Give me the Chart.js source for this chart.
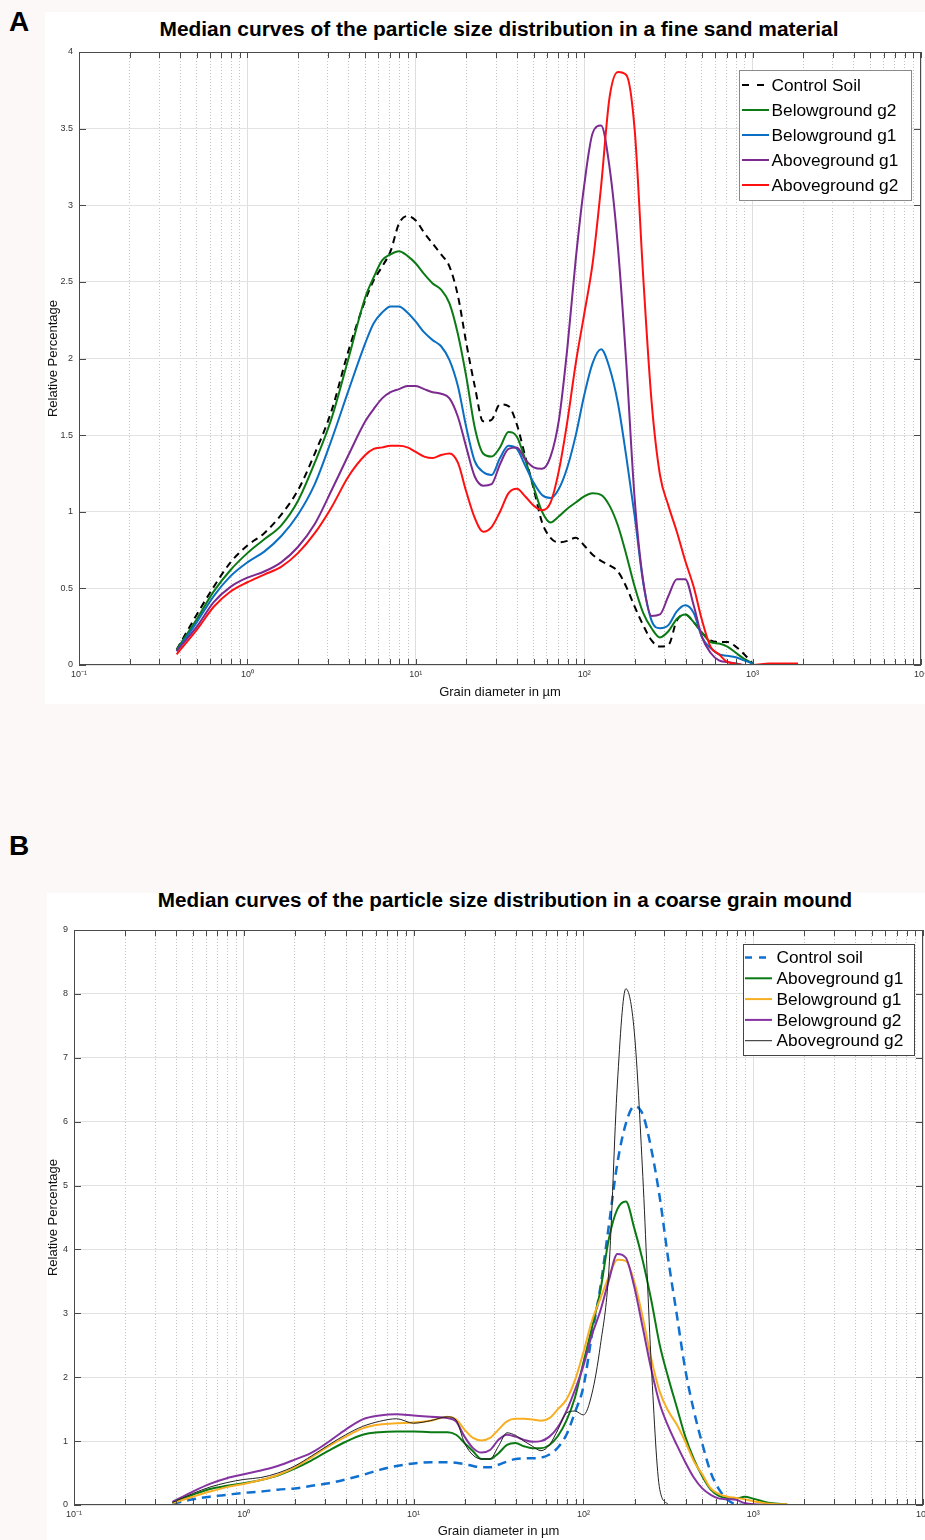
<!DOCTYPE html>
<html>
<head>
<meta charset="utf-8">
<script src="https://cdn.jsdelivr.net/npm/chart.js@4.4.1/dist/chart.umd.min.js"></script>
<style>
html,body{margin:0;padding:0;background:#fcf8f7;}
body{width:925px;height:1540px;position:relative;overflow:hidden;font-family:"Liberation Sans",Arial,Helvetica,sans-serif;}
.panel{position:absolute;background:#fff;}
.letter{position:absolute;font-weight:bold;font-size:28px;line-height:1;font-family:"Liberation Sans Narrow","Liberation Sans",Arial,sans-serif;color:#000;}
.title{position:absolute;font-weight:bold;font-size:19.5px;line-height:1;white-space:nowrap;color:#000;}
canvas{position:absolute;}
</style>
</head>
<body>
<div class="panel" style="left:45px;top:12px;width:880px;height:692px;"></div>
<div class="panel" style="left:47px;top:893px;width:878px;height:647px;"></div>
<div class="letter" style="left:9px;top:8px;">A</div>
<div class="letter" style="left:9px;top:832px;">B</div>
<div class="title" style="left:499px;top:20px;transform:translateX(-50%) scaleX(1.071);">Median curves of the particle size distribution in a fine sand material</div>
<div class="title" style="left:505px;top:891px;transform:translateX(-50%) scaleX(1.061);">Median curves of the particle size distribution in a coarse grain mound</div>
<canvas id="chartA" width="885" height="695" style="left:40px;top:10px;"></canvas>
<canvas id="chartB" width="885" height="655" style="left:40px;top:885px;"></canvas>
<script>
// ---------- shared axis tick values / labels ----------
const xDecades = [0.1, 1, 10, 100, 1000, 10000];
const xDecadeLabels = ['10⁻¹', '10⁰', '10¹', '10²', '10³', '10⁴'];
const yTicksA = [0, 0.5, 1, 1.5, 2, 2.5, 3, 3.5, 4];
const yTickLabelsA = ['0', '0.5', '1', '1.5', '2', '2.5', '3', '3.5', '4'];
const yTicksB = [0, 1, 2, 3, 4, 5, 6, 7, 8, 9];
const yTickLabelsB = ['0', '1', '2', '3', '4', '5', '6', '7', '8', '9'];

// ---------- Chart A: fine sand material ----------
const xA = [0.38,0.501,0.631,0.794,1,1.259,1.585,1.995,2.512,3.162,3.981,5.012,5.623,6.31,7.079,7.943,8.913,10,11.22,12.59,14.13,15.85,17.78,19.95,22.39,25.12,28.18,31.62,35.48,39.81,44.67,50.12,56.23,63.1,70.79,79.43,89.13,100,112.2,125.9,141.3,158.5,177.8,199.5,223.9,251.2,281.8,316.2,354.8,398.1,446.7,501.2,562.3,631,707.9,794.3,891.3,1000,1259,1585,1862];
const controlSoilA = [0.10,0.33,0.51,0.67,0.78,0.86,0.98,1.14,1.38,1.66,2.05,2.38,
  2.51,2.60,2.70,2.88,2.93,2.90,2.82,2.75,2.68,2.60,2.41,2.10,1.82,1.59,1.60,1.70,1.69,1.57,1.36,1.15,0.93,0.83,0.80,0.81,0.83,0.78,0.72,0.68,0.65,0.61,0.51,0.38,0.26,0.16,0.12,0.13,0.29,0.33,0.28,0.21,0.16,0.15,0.15,0.12,0.07,0.01,null,null,null];
const belowG2A = [0.10,0.30,0.48,0.62,0.73,0.82,0.91,1.07,1.32,1.61,2.00,2.40,
  2.53,2.64,2.68,2.70,2.67,2.62,2.55,2.49,2.45,2.36,2.16,1.88,1.55,1.38,1.36,1.42,1.52,1.49,1.34,1.16,1.00,0.93,0.97,1.02,1.06,1.10,1.12,1.11,1.04,0.91,0.72,0.51,0.34,0.24,0.18,0.22,0.30,0.33,0.28,0.21,0.15,0.14,0.12,0.08,0.04,0.01,null,null,null];
const belowG1A = [0.09,0.28,0.45,0.58,0.67,0.74,0.84,0.98,1.18,1.47,1.79,2.10,
  2.23,2.30,2.34,2.34,2.30,2.24,2.17,2.12,2.08,1.99,1.82,1.55,1.33,1.26,1.24,1.35,1.43,1.41,1.30,1.19,1.11,1.09,1.15,1.29,1.50,1.76,1.97,2.06,1.94,1.71,1.36,0.97,0.54,0.29,0.24,0.26,0.35,0.39,0.34,0.18,0.11,0.07,0.06,0.05,0.03,0.01,null,null,null];
const aboveG1A = [0.09,0.25,0.41,0.51,0.57,0.61,0.67,0.77,0.92,1.14,1.37,1.59,
  1.67,1.74,1.78,1.80,1.82,1.82,1.80,1.78,1.77,1.74,1.62,1.42,1.23,1.17,1.18,1.31,1.41,1.42,1.34,1.29,1.28,1.36,1.60,2.07,2.65,3.13,3.47,3.52,3.25,2.73,1.97,1.08,0.55,0.32,0.33,0.45,0.56,0.56,0.39,0.18,0.08,0.03,0.02,0.01,0.00,0.00,null,null,null];
const aboveG2A = [0.07,0.23,0.38,0.48,0.54,0.59,0.64,0.73,0.86,1.03,1.23,1.37,
  1.41,1.42,1.43,1.43,1.42,1.39,1.36,1.35,1.37,1.38,1.32,1.13,0.96,0.87,0.90,1.00,1.12,1.15,1.10,1.04,1.01,1.06,1.27,1.59,1.97,2.29,2.62,3.12,3.70,3.87,3.85,3.49,2.54,1.72,1.24,1.04,0.87,0.68,0.51,0.29,0.12,0.07,0.02,0.01,0.00,0.00,0.01,0.01,0.01];

// ---------- Chart B: coarse grain mound ----------
const xB = [0.38,0.501,0.631,0.794,1,1.259,1.585,1.995,2.512,3.162,3.981,5.012,6.31,7.943,10,12.59,15.85,17.78,19.95,22.39,25.12,28.18,31.62,35.48,39.81,44.67,50.12,56.23,63.1,70.79,79.43,89.13,100,112.2,125.9,141.3,158.5,177.8,199.5,223.9,251.2,281.8,316.2,354.8,398.1,446.7,501.2,562.3,631,707.9,794.3,891.3,1000,1259,1585];
const controlSoilB = [0.02,0.09,0.13,0.16,0.19,0.21,0.24,0.26,0.30,0.34,0.40,0.47,0.55,0.61,0.65,0.67,0.67,
  0.66,0.64,0.61,0.59,0.59,0.63,0.68,0.72,0.73,0.73,0.74,0.79,0.90,1.10,1.45,1.85,2.66,3.41,4.38,5.35,5.97,6.24,6.11,5.57,4.81,3.84,2.98,2.12,1.48,0.96,0.51,0.24,0.08,0.01,0.00,null,null,null];
const aboveG1B = [0.04,0.16,0.25,0.30,0.34,0.39,0.46,0.57,0.70,0.85,0.99,1.10,1.14,1.15,1.15,1.14,1.14,
  1.10,0.97,0.84,0.72,0.72,0.81,0.94,0.97,0.92,0.89,0.89,0.94,1.08,1.32,1.68,2.23,2.77,3.36,4.17,4.63,4.75,4.33,3.82,3.20,2.50,1.99,1.53,1.07,0.72,0.45,0.24,0.14,0.11,0.10,0.13,0.10,0.03,0.01];
const belowG1B = [0.03,0.13,0.21,0.28,0.33,0.39,0.47,0.59,0.75,0.92,1.07,1.20,1.26,1.28,1.29,1.32,1.38,
  1.34,1.18,1.05,1.01,1.05,1.18,1.31,1.35,1.35,1.34,1.32,1.36,1.50,1.65,1.95,2.39,2.88,3.23,3.58,3.84,3.82,3.49,2.93,2.28,1.77,1.47,1.26,0.99,0.69,0.48,0.26,0.17,0.13,0.11,0.09,0.06,0.02,0.01];
const belowG2B = [0.05,0.21,0.33,0.42,0.48,0.54,0.61,0.71,0.82,0.99,1.18,1.34,1.40,1.42,1.40,1.38,1.36,
  1.31,1.07,0.89,0.82,0.86,1.02,1.10,1.07,1.02,0.99,1.00,1.07,1.22,1.47,1.80,2.18,2.66,3.04,3.52,3.93,3.87,3.41,2.77,2.12,1.58,1.23,0.94,0.67,0.43,0.26,0.16,0.10,0.09,0.08,0.03,0.01,0.00,0.00];
const aboveG2B = [0.04,0.18,0.28,0.35,0.40,0.43,0.50,0.61,0.77,0.94,1.10,1.23,1.31,1.35,1.28,1.32,1.38,
  1.33,0.97,0.78,0.72,0.72,0.92,1.13,1.09,1.00,0.92,0.85,0.94,1.18,1.44,1.47,1.41,1.74,2.50,3.68,6.59,8.08,7.40,5.14,2.18,0.24,0.01,null,null,null,null,null,null,null,null,null,null,null,null];

// minor log ticks (2..9 of each decade) for the dotted grid
const xMinor = [];
for (let d = 0; d < xDecades.length - 1; d++) for (let k = 2; k <= 9; k++) xMinor.push(+(k * xDecades[d]).toPrecision(3));
const xAllTicks = xDecades.concat(xMinor).sort((a, b) => a - b);
const isDecade = v => xDecades.some(d => Math.abs(v - d) / d < 1e-6);

function pts(xs, ys) { return xs.map((x, i) => ({ x: x, y: ys[i] })); }

const framePlugin = {
  id: 'frame',
  afterDatasetsDraw(chart) {
    const { ctx, chartArea: { left, right, top, bottom }, scales: { x, y } } = chart;
    ctx.save();
    ctx.strokeStyle = '#4a4a4a';
    ctx.lineWidth = 1;
    ctx.beginPath();
    x.ticks.forEach(t => {
      const px = Math.round(x.getPixelForValue(t.value)) + 0.5;
      ctx.moveTo(px, bottom); ctx.lineTo(px, bottom - 6);
      ctx.moveTo(px, top); ctx.lineTo(px, top + 6);
    });
    y.ticks.forEach(t => {
      const py = Math.round(y.getPixelForValue(t.value)) + 0.5;
      ctx.moveTo(left, py); ctx.lineTo(left + 7, py);
      ctx.moveTo(right, py); ctx.lineTo(right - 7, py);
    });
    ctx.stroke();
    ctx.strokeRect(Math.round(left) + 0.5, Math.round(top) + 0.5, Math.round(right - left) - 1, Math.round(bottom - top) - 1);
    ctx.restore();
  }
};

const boxLegendPlugin = {
  id: 'boxLegend',
  afterDraw(chart, args, o) {
    const ctx = chart.ctx;
    ctx.save();
    ctx.fillStyle = '#fff';
    ctx.fillRect(o.x, o.y, o.w, o.h);
    ctx.strokeStyle = o.border;
    ctx.lineWidth = 1;
    ctx.strokeRect(o.x + 0.5, o.y + 0.5, o.w, o.h);
    ctx.font = o.font;
    ctx.textBaseline = 'middle';
    chart.data.datasets.forEach((ds, i) => {
      const cy = o.rowY + i * o.rowH;
      ctx.beginPath();
      ctx.strokeStyle = ds.borderColor;
      ctx.lineWidth = ds.borderWidth;
      ctx.setLineDash(ds.borderDash ? o.dash : []);
      ctx.moveTo(o.lx1, cy); ctx.lineTo(o.lx2, cy);
      ctx.stroke();
      ctx.setLineDash([]);
      ctx.fillStyle = '#000';
      ctx.fillText(ds.label, o.tx, cy + 1);
    });
    ctx.restore();
  }
};

function makeChart(id, cfg) {
  const tickFont = { family: '"Liberation Sans", Arial, sans-serif', size: 9 };
  return new Chart(document.getElementById(id), {
    type: 'line',
    data: { datasets: cfg.datasets },
    options: {
      responsive: false,
      animation: false,
      devicePixelRatio: 1,
      layout: { padding: cfg.padding },
      elements: { point: { radius: 0 }, line: { cubicInterpolationMode: 'monotone', fill: false } },
      plugins: { legend: { display: false }, tooltip: { enabled: false }, title: { display: false }, boxLegend: cfg.legend },
      scales: {
        x: {
          type: 'logarithmic', min: 0.1, max: 10000, position: 'bottom',
          afterBuildTicks: s => { s.ticks = xAllTicks.map(v => ({ value: v })); },
          afterFit: s => { s.height = cfg.xAxisHeight; s.paddingLeft = 0; s.paddingRight = 0; },
          ticks: {
            autoSkip: false, maxRotation: 0, minRotation: 0, padding: 4, color: '#333', font: tickFont,
            callback: v => { const i = xDecades.findIndex(d => Math.abs(v - d) / d < 1e-6); return i >= 0 ? xDecadeLabels[i] : ''; }
          },
          grid: {
            drawTicks: false,
            color: c => (c.tick && isDecade(c.tick.value)) ? '#dedede' : '#c4c4c4'
          },
          border: { display: false, dash: c => (c.tick && isDecade(c.tick.value)) ? [] : [1, 2] },
          title: { display: true, text: 'Grain diameter in µm', color: '#111', font: { family: '"Liberation Sans", Arial, sans-serif', size: 13 }, padding: { top: 0, bottom: cfg.xTitlePad } }
        },
        y: {
          type: 'linear', min: 0, max: cfg.yMax, position: 'left',
          afterBuildTicks: s => { s.ticks = cfg.yTicks.map(v => ({ value: v })); },
          afterFit: s => { s.width = cfg.yAxisWidth; s.paddingTop = 0; s.paddingBottom = 0; },
          ticks: { autoSkip: false, padding: 6, color: '#333', font: tickFont, callback: (v, i) => cfg.yLabels[i] },
          grid: { drawTicks: false, color: '#e2e2e2' },
          border: { display: false },
          title: { display: true, text: 'Relative Percentage', color: '#111', font: { family: '"Liberation Sans", Arial, sans-serif', size: 13 }, padding: { top: cfg.yTitlePad, bottom: 0 } }
        }
      }
    },
    plugins: [framePlugin, boxLegendPlugin]
  });
}

const dsA = [
  { label: 'Control Soil', data: pts(xA, controlSoilA), borderColor: '#000000', borderWidth: 2, borderDash: [7, 5], order: 5 },
  { label: 'Belowground g2', data: pts(xA, belowG2A), borderColor: '#0b7a14', borderWidth: 2, order: 4 },
  { label: 'Belowground g1', data: pts(xA, belowG1A), borderColor: '#0a6fc2', borderWidth: 2, order: 3 },
  { label: 'Aboveground g1', data: pts(xA, aboveG1A), borderColor: '#7b2a8f', borderWidth: 2, order: 2 },
  { label: 'Aboveground g2', data: pts(xA, aboveG2A), borderColor: '#ff1010', borderWidth: 2, order: 1 }
];
makeChart('chartA', {
  datasets: dsA,
  padding: { left: 0, right: 4, top: 42, bottom: 0 },
  xAxisHeight: 40, yAxisWidth: 39, xTitlePad: 5, yTitlePad: 6,
  yMax: 4, yTicks: yTicksA, yLabels: yTickLabelsA,
  legend: { x: 699, y: 60, w: 172, h: 130, border: '#8a8a8a', rowY: 75, rowH: 25, lx1: 702, lx2: 729, tx: 731.5, dash: [7, 8], font: '17.3px "Liberation Sans", Arial, sans-serif' }
});

const dsB = [
  { label: 'Control soil', data: pts(xB, controlSoilB), borderColor: '#1070d0', borderWidth: 2.5, borderDash: [9, 6], order: 5 },
  { label: 'Aboveground g1', data: pts(xB, aboveG1B), borderColor: '#0b7a14', borderWidth: 2, order: 4 },
  { label: 'Belowground g1', data: pts(xB, belowG1B), borderColor: '#f8ae22', borderWidth: 2, order: 3 },
  { label: 'Belowground g2', data: pts(xB, belowG2B), borderColor: '#8533a0', borderWidth: 2, order: 2 },
  { label: 'Aboveground g2', data: pts(xB, aboveG2B), borderColor: '#222222', borderWidth: 1, order: 1 }
];
makeChart('chartB', {
  datasets: dsB,
  padding: { left: 0, right: 2, top: 45, bottom: 0 },
  xAxisHeight: 35, yAxisWidth: 34, xTitlePad: 1, yTitlePad: 5.5,
  yMax: 9, yTicks: yTicksB, yLabels: yTickLabelsB,
  legend: { x: 703, y: 59, w: 171, h: 111, border: '#444', rowY: 72.5, rowH: 20.8, lx1: 705, lx2: 732, tx: 736.5, dash: [7, 7], font: '17.3px "Liberation Sans", Arial, sans-serif' }
});
</script>
</body>
</html>
